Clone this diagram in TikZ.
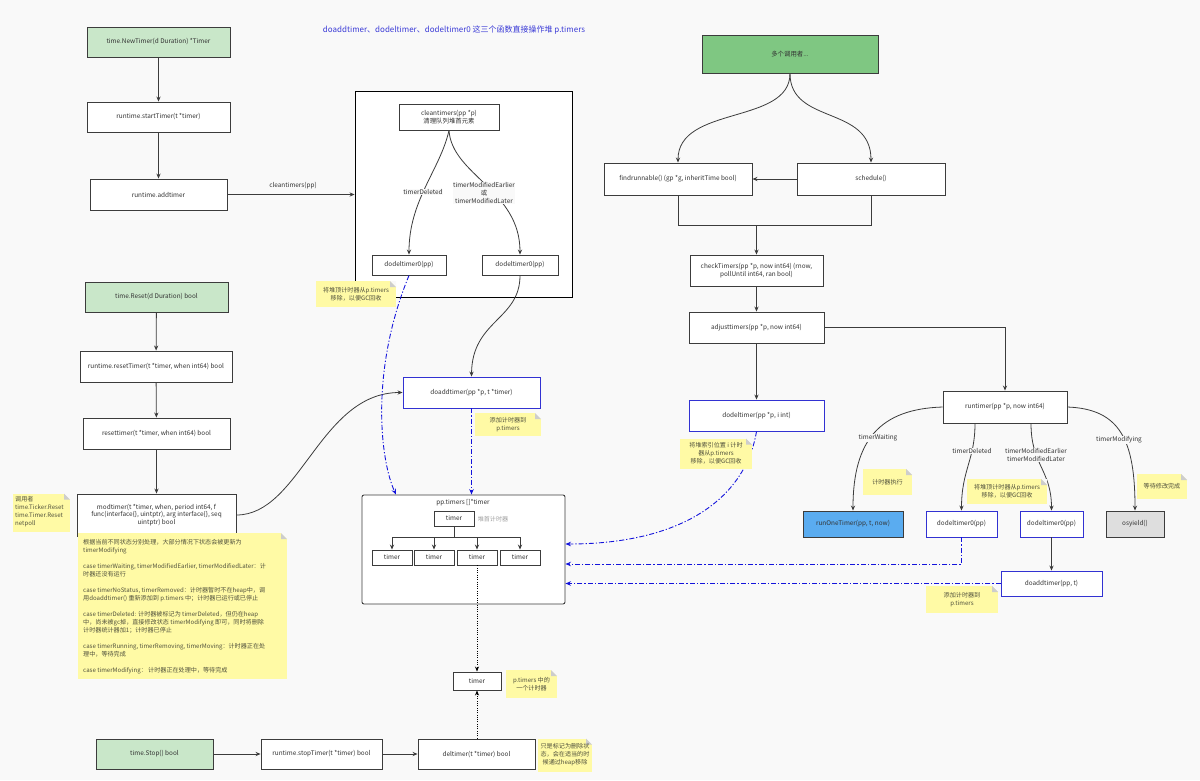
\documentclass[tikz,border=0pt]{standalone}
\usepackage{fontspec}
\setmainfont{Noto Sans CJK SC}
\usetikzlibrary{arrows.meta}
\definecolor{bg}{RGB}{249,249,249}
\definecolor{bord}{RGB}{60,60,60}
\definecolor{txt}{RGB}{50,50,50}
\definecolor{blueb}{RGB}{50,50,210}
\definecolor{lgreen}{RGB}{201,231,201}
\definecolor{dgreen}{RGB}{127,199,130}
\definecolor{notey}{RGB}{255,250,165}
\definecolor{notet}{RGB}{80,80,60}
\definecolor{foldg}{RGB}{205,205,205}
\definecolor{dashb}{RGB}{20,20,220}
\definecolor{skyb}{RGB}{90,172,240}
\definecolor{osg}{RGB}{222,222,222}
\definecolor{titleb}{RGB}{60,60,215}
\definecolor{hint}{RGB}{160,160,160}
\newcommand\fsa{\fontsize{6.4}{7.8}\selectfont}
\newcommand\fsn{\fontsize{6.1}{8}\selectfont}
\newcommand\fst{\fontsize{8}{9.5}\selectfont}
\tikzset{
  box/.style={draw=bord, fill=white, line width=0.9pt, inner sep=1pt, align=center, font=\fsa, text=txt},
  bbox/.style={box, draw=blueb},
  arr/.style={draw=bord, line width=0.8pt, -{Stealth[length=5pt,width=4.2pt]}},
  ln/.style={draw=bord, line width=0.8pt},
  dd/.style={draw=dashb, line width=0.9pt, dash pattern=on 5pt off 2pt on 1.2pt off 2pt, -{Stealth[length=5.5pt,width=4.5pt]}},
  dt/.style={draw=black, line width=0.7pt, dash pattern=on 1pt off 1.3pt, -{Stealth[length=5pt,width=4pt]}},
  lbl/.style={fill=bg, inner sep=0.6pt, align=center, font=\fsa, text=txt},
  note/.style={fill=notey, inner sep=0pt, align=center, font=\fsn, text=notet,
    path picture={
      \fill[bg] ([xshift=-6pt]path picture bounding box.north east) -- (path picture bounding box.north east) -- ([yshift=-6pt]path picture bounding box.north east) -- cycle;
      \fill[foldg] ([xshift=-6pt]path picture bounding box.north east) -- ([yshift=-6pt]path picture bounding box.north east) -- ([xshift=-6pt,yshift=-6pt]path picture bounding box.north east) -- cycle;
    }},
}
\begin{document}
\begin{tikzpicture}[x=1pt,y=-1pt]
\fill[bg] (0,0) rectangle (1200,780);
\useasboundingbox (0,0) rectangle (1200,780);

% title
\node[font=\fst, text=titleb] (title) at (454,30) {doaddtimer、dodeltimer、dodeltimer0 这三个函数直接操作堆 p.timers};

% ---------- left column: NewTimer ----------
\node[box, fill=lgreen, minimum width=143pt, minimum height=30pt] (newtimer) at (158.5,42) {time.NewTimer(d Duration) *Timer};
\node[box, minimum width=143pt, minimum height=30pt] (starttimer) at (158.5,117) {runtime.startTimer(t *timer)};
\node[box, minimum width=137pt, minimum height=31pt] (addtimer) at (158.5,194.5) {runtime.addtimer};

% ---------- cleantimers box ----------
\node[draw=black, fill=white, line width=0.9pt, minimum width=217pt, minimum height=206pt, inner sep=0pt] (bigbox) at (463.5,194) {};
\node[box, minimum width=100pt, minimum height=26pt] (clean) at (449,117) {cleantimers(pp *p)\\清理队列堆首元素};
\node[box, minimum width=74pt, minimum height=20pt] (dla) at (409,265) {dodeltimer0(pp)};
\node[box, minimum width=76pt, minimum height=20pt] (dlb) at (520,265) {dodeltimer0(pp)};

\draw[arr] (addtimer.east) -- (addtimer.east -| bigbox.west);
\node[font=\fsa, text=txt] (lclean) at (293,186) {cleantimers(pp)};

\draw[arr] (clean.south) .. controls (440,170) and (409,200) .. (dla.north);
\draw[arr] (clean.south) .. controls (452,175) and (520,190) .. (dlb.north);
\node[lbl] (ldel1) at (423,192) {timerDeleted};
\node[lbl] (lmod1) at (484,193) {timerModifiedEarlier\\或\\timerModifiedLater};

% ---------- Reset column ----------
\node[box, fill=lgreen, minimum width=143pt, minimum height=30pt] (reset) at (156.5,297) {time.Reset(d Duration) bool};
\node[box, minimum width=152pt, minimum height=31pt] (resetTimer) at (156,366.5) {runtime.resetTimer(t *timer, when int64) bool};
\node[box, minimum width=147pt, minimum height=31pt] (resettimer) at (156.5,433.5) {resettimer(t *timer, when int64) bool};
\node[box, minimum width=159pt, minimum height=42pt] (modtimer) at (156.5,515) {modtimer(t *timer, when, period int64, f\\func(interface\{\}, uintptr), arg interface\{\}, seq\\uintptr) bool};
\draw[arr] (newtimer) -- (starttimer);
\draw[arr] (starttimer) -- (addtimer);
\draw[arr] (reset) -- (resetTimer);
\draw[arr] (resetTimer) -- (resettimer);
\draw[arr] (resettimer) -- (modtimer);

% ---------- doaddtimer + pp.timers ----------
\node[bbox, minimum width=137pt, minimum height=31pt] (doadd) at (471.5,392.5) {doaddtimer(pp *p, t *timer)};
\node[draw=bord, fill=white, line width=0.9pt, rounded corners=2pt, minimum width=203pt, minimum height=109pt, inner sep=0pt] (pp) at (463.5,549.5) {};
\node[font=\fsa, text=txt] (pptitle) at (463,503) {pp.timers []*timer};
\node[box, minimum width=40pt, minimum height=15pt] (ttop) at (454,518.5) {timer};
\node[font=\fsn, text=hint] (hinttop) at (493,519) {堆首计时器};
\node[box, minimum width=40pt, minimum height=15pt] (t1) at (392,557.5) {timer};
\node[box, minimum width=40pt, minimum height=15pt] (t2) at (434,557.5) {timer};
\node[box, minimum width=40pt, minimum height=15pt] (t3) at (477,557.5) {timer};
\node[box, minimum width=40pt, minimum height=15pt] (t4) at (520,557.5) {timer};
\coordinate (jn) at (454,537);
\draw[ln] (ttop.south) -- (jn);
\draw[ln] (jn -| t1) -- (jn -| t4);
\draw[arr] (jn -| t1) -- (t1.north);
\draw[arr] (jn -| t2) -- (t2.north);
\draw[arr] (jn -| t3) -- (t3.north);
\draw[arr] (jn -| t4) -- (t4.north);

\draw[arr] (modtimer.east) .. controls (300,515) and (320,392.5) .. (doadd.west);
\draw[arr] (dlb.south) .. controls (520,320) and (472,320) .. (doadd.north);
\draw[dd] (dla.south) .. controls (370,370) and (380,460) .. (396,494.5);
\draw[dd] (doadd.south) -- (doadd.south |- pp.north);

% ---------- stop row ----------
\node[box, minimum width=48pt, minimum height=18pt] (tb) at (477,681) {timer};
\node[box, fill=lgreen, minimum width=117pt, minimum height=30pt] (stop) at (154.5,754) {time.Stop() bool};
\node[box, minimum width=121pt, minimum height=30pt] (stoptimer) at (321.5,754) {runtime.stopTimer(t *timer) bool};
\node[box, minimum width=117pt, minimum height=30pt] (deltimer) at (476.5,754) {deltimer(t *timer) bool};
\draw[arr] (stop) -- (stoptimer);
\draw[arr] (stoptimer) -- (deltimer);
\draw[dt] (t3.south) -- (tb.north);
\draw[dt] (deltimer.north -| tb) -- (tb.south);

% ---------- right: schedule ----------
\node[box, fill=dgreen, minimum width=176pt, minimum height=38pt] (callers) at (790,54) {多个调用者...};
\node[box, minimum width=148pt, minimum height=32pt] (findrun) at (678,179) {findrunnable() (gp *g, inheritTime bool)};
\node[box, minimum width=148pt, minimum height=32pt] (sched) at (871,179) {schedule()};
\node[box, minimum width=133pt, minimum height=31pt] (check) at (756.5,270.5) {checkTimers(pp *p, now int64) (rnow,\\pollUntil int64, ran bool)};
\node[box, minimum width=135pt, minimum height=31pt] (adjust) at (756.5,327.5) {adjusttimers(pp *p, now int64)};
\node[bbox, minimum width=135pt, minimum height=31pt] (dodel) at (756.5,415.5) {dodeltimer(pp *p, i int)};
\draw[arr] (callers.south) .. controls (790,125) and (678,105) .. (findrun.north);
\draw[arr] (callers.south) .. controls (790,125) and (871,105) .. (sched.north);
\draw[arr] (sched.west) -- (findrun.east);
\coordinate (mL) at (678,225);
\coordinate (mR) at (871,225);
\coordinate (mC) at (756.5,225);
\draw[ln] (findrun.south) -- (mL) -- (mR) -- (sched.south);
\draw[arr] (mC) -- (check.north);
\draw[arr] (check) -- (adjust);
\draw[arr] (adjust) -- (dodel);

% ---------- runtimer ----------
\node[box, minimum width=124pt, minimum height=32pt] (runtimer) at (1005,407) {runtimer(pp *p, now int64)};
\node[box, fill=skyb, draw=bord, minimum width=100pt, minimum height=26pt] (runone) at (853,524) {runOneTimer(pp, t, now)};
\node[bbox, minimum width=71pt, minimum height=26pt] (dlc) at (961.5,524) {dodeltimer0(pp)};
\node[bbox, minimum width=63pt, minimum height=26pt] (dld) at (1051.5,524) {dodeltimer0(pp)};
\node[box, fill=osg, minimum width=58pt, minimum height=26pt] (osy) at (1135,524) {osyield()};
\node[bbox, minimum width=101pt, minimum height=25pt] (doadd2) at (1051.5,583.5) {doaddtimer(pp, t)};
\draw[arr] (adjust.east) -| (runtimer.north);
\draw[arr] (runtimer.west) .. controls (880,409) and (853,440) .. (runone.north);
\draw[arr] (runtimer.south -| 975,0) .. controls (975,460) and (961.5,470) .. (dlc.north);
\draw[arr] (runtimer.south -| 1031,0) .. controls (1031,465) and (1051.5,470) .. (dld.north);
\draw[arr] (runtimer.east) .. controls (1120,409) and (1135,440) .. (osy.north);
\draw[arr] (dld) -- (doadd2);
\node[lbl] (lwait) at (878,438) {timerWaiting};
\node[lbl] (ldel2) at (972,451) {timerDeleted};
\node[lbl] (lmod2) at (1036,455) {timerModifiedEarlier\\timerModifiedLater};
\node[lbl] (lmodi) at (1119,440) {timerModifying};

% blue dash-dot connections into pp.timers
\draw[dd] (dodel.south) .. controls (745,500) and (680,544) .. (pp.east |- 0,544);
\coordinate (dlcd) at (961.5,564);
\draw[dd] (dlc.south) -- (dlcd) -- (pp.east |- dlcd);
\draw[dd] (doadd2.west) -- (pp.east |- doadd2.west);

% ---------- notes ----------
\node[note, minimum width=80pt, minimum height=26pt] (n1) at (356,294) {将堆顶计时器从p.timers\\移除，以便GC回收};
\node[note, minimum width=66pt, minimum height=23pt] (n2) at (508,424.5) {添加计时器到\\p.timers};
\node[note, minimum width=72pt, minimum height=30pt] (n3) at (716,453.5) {将堆索引位置 i 计时\\器从p.timers\\移除，以便GC回收};
\node[note, minimum width=49pt, minimum height=26pt] (n4) at (887.5,482) {计时器执行};
\node[note, minimum width=80pt, minimum height=25pt] (n5) at (1007,491.5) {将堆顶计时器从p.timers\\移除，以便GC回收};
\node[note, minimum width=50pt, minimum height=25pt] (n6) at (1162,486.5) {等待修改完成};
\node[note, minimum width=72pt, minimum height=27pt] (n7) at (962,599.5) {添加计时器到\\p.timers};
\node[note, minimum width=57pt, minimum height=38pt] (n8) at (41.5,512.5) {};
\node[anchor=north west, inner sep=0pt, align=left, font=\fsn, text=notet] (n8t) at (15,496) {调用者\\time.Ticker.Reset\\time.Timer.Reset\\netpoll};
\node[note, minimum width=209pt, minimum height=146pt] (n9) at (182.5,606) {};
\node[anchor=north west, inner sep=0pt, align=left, font=\fsn, text=notet] (n9t) at (83,539.5) {根据当前不同状态分别处理，大部分情况下状态会被更新为\\timerModifying\\[8pt]case timerWaiting, timerModifiedEarlier, timerModifiedLater：计\\时器还没有运行\\[8pt]case timerNoStatus, timerRemoved：计时器暂时不在heap中，调\\用doaddtimer() 重新添加到 p.timers 中；计时器已运行或已停止\\[8pt]case timerDeleted: 计时器被标记为 timerDeleted，但仍在heap\\中，尚未被gc掉，直接修改状态 timerModifying 即可，同时将删除\\计时器统计器加1；计时器已停止\\[8pt]case timerRunning, timerRemoving, timerMoving：计时器正在处\\理中，等待完成\\[8pt]case timerModifying： 计时器正在处理中，等待完成};
\node[note, minimum width=51pt, minimum height=28pt] (n10) at (531.5,684) {p.timers 中的\\一个计时器};
\node[note, minimum width=54pt, minimum height=33pt] (n11) at (565,755) {只是标记为删除状\\态，会在适当的时\\候通过heap移除};
\end{tikzpicture}
\end{document}
